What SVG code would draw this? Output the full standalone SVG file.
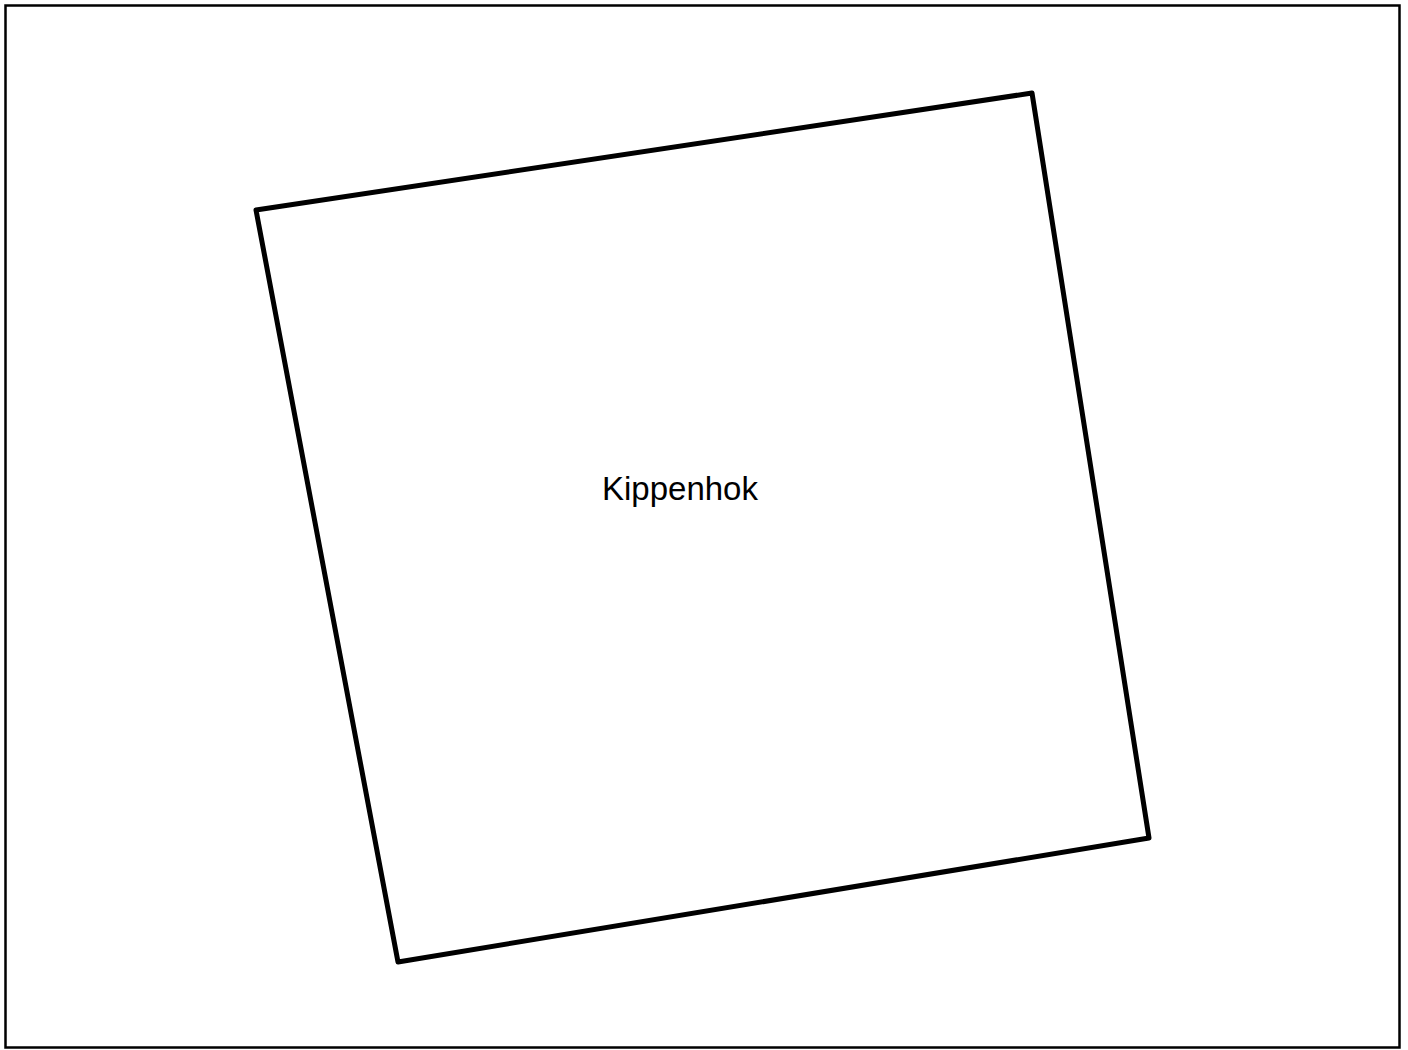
<svg xmlns="http://www.w3.org/2000/svg" width="1408" height="1050" viewBox="0 0 1408 1050">
<style>
.frame{fill:#fff;stroke:#000;stroke-width:2.5}
.node{fill:#fff;stroke:#000;stroke-width:5;stroke-linejoin:round}
.lbl{font-family:"Liberation Sans",Arial,sans-serif;font-size:33px;fill:#000;text-anchor:middle}
</style>
<rect class="frame" x="5.5" y="5.5" width="1394" height="1042"/>
<g id="kippenhok">
<polygon class="node" points="256,210 1032,93 1149,838 398,962"/>
<text class="lbl" x="680" y="500">Kippenhok</text>
</g>
<g id="connectors"/>
</svg>
